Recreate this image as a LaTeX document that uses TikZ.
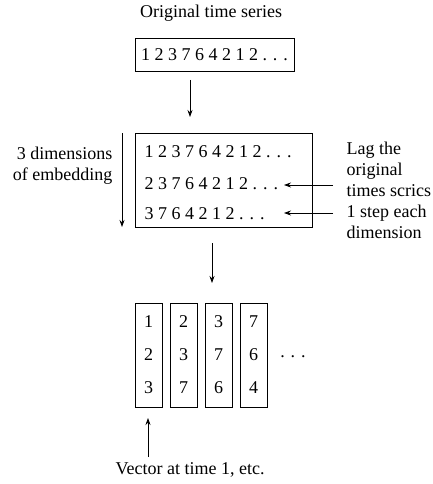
\documentclass[tikz,border=0pt]{standalone}
\usepackage{fontspec}
\setmainfont{Liberation Serif}
\usetikzlibrary{arrows.meta,positioning}

\begin{document}
\begin{tikzpicture}[x=1pt,y=-1pt]
    \tikzstyle{every node}=[font=\fontsize{18}{21}\selectfont];
    \tikzstyle{box}=[draw, inner sep=0pt];
    \tikzstyle{arr}=[-{Stealth[length=7pt,width=5pt]}, line width=0.8pt];
    \useasboundingbox (0,0) rectangle (433,484);
    % original series
    \node (title) at (211,13) {Original time series};
    \node[box, minimum width=159pt, minimum height=33pt] (series) at (214.5,54.5) {1 2 3 7 6 4 2 1 2 . . .};
    \coordinate (a1s) at (190,80);
    \coordinate (a1e) at (190,117);
    \draw[arr] (a1s) -- (a1e);
    % embedding
    \node[box, minimum width=177pt, minimum height=94pt] (embed) at (223.5,180) {};
    \node[anchor=west] (row1) at (141,152) {1 2 3 7 6 4 2 1 2 . . .};
    \node[anchor=west] (row2) at (141,184) {2 3 7 6 4 2 1 2 . . .};
    \node[anchor=west] (row3) at (141,214) {3 7 6 4 2 1 2 . . .};
    \coordinate (dtop) at (122,133);
    \coordinate (dbot) at (122,227);
    \draw[arr] (dtop) -- (dbot);
    \node[align=right, anchor=east] (dims) at (116,166) {3 dimensions\\of embedding};
    \node[align=left, anchor=west] (lag) at (343,190) {Lag the\\original\\times scrics\\1 step each\\dimension};
    \coordinate (l2s) at (333,185);
    \coordinate (l2e) at (284,185);
    \coordinate (l3s) at (333,213);
    \coordinate (l3e) at (284,213);
    \draw[arr] (l2s) -- (l2e);
    \draw[arr] (l3s) -- (l3e);
    \coordinate (a2s) at (212,243);
    \coordinate (a2e) at (212,283);
    \draw[arr] (a2s) -- (a2e);
    % vectors
    \node[box, minimum width=27pt, minimum height=104pt, align=center, font=\fontsize{18}{33}\selectfont] (vec1) at (148.5,355) {1\\2\\3};
    \node[box, minimum width=27pt, minimum height=104pt, align=center, font=\fontsize{18}{33}\selectfont] (vec2) at (183.5,355) {2\\3\\7};
    \node[box, minimum width=27pt, minimum height=104pt, align=center, font=\fontsize{18}{33}\selectfont] (vec3) at (218.5,355) {3\\7\\6};
    \node[box, minimum width=27pt, minimum height=104pt, align=center, font=\fontsize{18}{33}\selectfont] (vec4) at (253.5,355) {7\\6\\4};
    \node (more) at (293,357) {. . .};
    \coordinate (vs) at (148,457);
    \coordinate (ve) at (148,418);
    \draw[arr] (vs) -- (ve);
    \node (vlabel) at (190,470) {Vector at time 1, etc.};
\end{tikzpicture}
\end{document}
